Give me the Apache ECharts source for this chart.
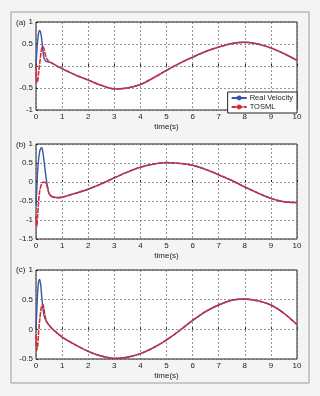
<!DOCTYPE html>
<html><head><meta charset="utf-8">
<script src="https://cdn.jsdelivr.net/npm/echarts@6/dist/echarts.min.js"></script>
<style>html,body{margin:0;padding:0;background:#f4f4f4;}#c{width:320px;height:396px;}</style>
</head><body><div id="c"></div>
<script>
// shared time grid (s)
var times = [0, 0.03, 0.06, 0.1, 0.14, 0.18, 0.22, 0.26, 0.3, 0.35, 0.4, 0.45, 0.5, 0.6, 0.8, 1, 1.5, 2, 2.5, 3, 3.5, 4, 4.5, 5, 5.5, 6, 6.5, 7, 7.5, 8, 8.5, 9, 9.5, 10];
// panel (a)
var realA  = [0, 0.3, 0.55, 0.75, 0.81, 0.76, 0.6, 0.38, 0.2, 0.12, 0.1, 0.095, 0.09, 0.07, 0.0, -0.06, -0.2, -0.32, -0.44, -0.52, -0.5, -0.42, -0.27, -0.1, 0.06, 0.2, 0.33, 0.43, 0.51, 0.54, 0.5, 0.41, 0.28, 0.13];
var tosmlA = [0, -0.38, -0.35, -0.15, 0.05, 0.25, 0.4, 0.45, 0.4, 0.28, 0.18, 0.13, 0.1, 0.07, 0.0, -0.06, -0.2, -0.32, -0.44, -0.52, -0.5, -0.42, -0.27, -0.1, 0.06, 0.2, 0.33, 0.43, 0.51, 0.54, 0.5, 0.41, 0.28, 0.13];
// panel (b)
var realB  = [-0.6, -0.2, 0.25, 0.6, 0.8, 0.88, 0.9, 0.8, 0.6, 0.3, 0.05, -0.15, -0.3, -0.38, -0.41, -0.4, -0.3, -0.19, -0.05, 0.11, 0.26, 0.39, 0.47, 0.51, 0.49, 0.44, 0.33, 0.19, 0.04, -0.13, -0.29, -0.43, -0.52, -0.54];
var tosmlB = [-0.9, -1.17, -0.9, -0.5, -0.25, -0.12, -0.05, -0.01, 0.0, -0.01, -0.07, -0.18, -0.3, -0.38, -0.41, -0.4, -0.3, -0.19, -0.05, 0.11, 0.26, 0.39, 0.47, 0.51, 0.49, 0.44, 0.33, 0.19, 0.04, -0.13, -0.29, -0.43, -0.52, -0.54];
// panel (c)
var realC  = [0, 0.3, 0.6, 0.8, 0.84, 0.75, 0.55, 0.38, 0.25, 0.18, 0.13, 0.1, 0.07, 0.02, -0.06, -0.13, -0.26, -0.37, -0.45, -0.49, -0.47, -0.41, -0.31, -0.18, -0.02, 0.15, 0.3, 0.41, 0.49, 0.51, 0.48, 0.41, 0.27, 0.08];
var tosmlC = [-0.1, -0.35, -0.3, -0.05, 0.15, 0.3, 0.4, 0.42, 0.35, 0.22, 0.14, 0.1, 0.07, 0.02, -0.06, -0.13, -0.26, -0.37, -0.45, -0.49, -0.47, -0.41, -0.31, -0.18, -0.02, 0.15, 0.3, 0.41, 0.49, 0.51, 0.48, 0.41, 0.27, 0.08];
var xTicks = {min: 0, max: 10, interval: 1};
var yRanges = [{min: -1, max: 1}, {min: -1.5, max: 1}, {min: -0.5, max: 1}];
var panelLabels = ['(a)', '(b)', '(c)'];
var seriesNames = ['Real Velocity', 'TOSML'];

var FONT = 'Liberation Sans, Arial, sans-serif';
var gridBoxes = [{top: 22, height: 88}, {top: 144, height: 95}, {top: 270, height: 89}];
var grids = [], xAxes = [], yAxes = [], series = [];
var realAll = [realA, realB, realC], tosmlAll = [tosmlA, tosmlB, tosmlC];
function pairs(v){ return times.map(function(t,i){ return [t, v[i]]; }); }
for (var i = 0; i < 3; i++) {
  grids.push({left: 36, right: 23, top: gridBoxes[i].top, height: gridBoxes[i].height, show: true, backgroundColor: '#fff', borderColor: '#222', borderWidth: 1});
  var split = {show: true, lineStyle: {color: '#666', type: [2, 2], width: 0.7}};
  xAxes.push({type: 'value', gridIndex: i, min: xTicks.min, max: xTicks.max, interval: xTicks.interval,
    name: 'time(s)', nameLocation: 'middle', nameGap: 13, nameTextStyle: {fontSize: 8, color: '#222', fontFamily: FONT},
    axisLine: {show: false}, axisTick: {show: true, inside: true, length: 2, lineStyle: {color: '#222'}},
    axisLabel: {fontSize: 8, color: '#222', margin: 3, fontFamily: FONT}, splitLine: split});
  yAxes.push({type: 'value', gridIndex: i, min: yRanges[i].min, max: yRanges[i].max, interval: 0.5,
    axisLine: {show: false}, axisTick: {show: true, inside: true, length: 2, lineStyle: {color: '#222'}},
    axisLabel: {fontSize: 8, color: '#222', margin: 3, fontFamily: FONT}, splitLine: split});
  series.push({name: seriesNames[0], type: 'line', xAxisIndex: i, yAxisIndex: i, data: pairs(realAll[i]),
    smooth: 0.3, showSymbol: false, symbol: 'circle', symbolSize: 2, color: '#3657a8', lineStyle: {width: 1.4, color: '#3657a8'}});
  series.push({name: seriesNames[1], type: 'line', xAxisIndex: i, yAxisIndex: i, data: pairs(tosmlAll[i]),
    smooth: 0.3, showSymbol: false, symbol: 'circle', symbolSize: 2, color: '#d42c3a', lineStyle: {width: 1.6, color: '#d42c3a', type: [5, 1]}});
}
var graphics = [{type: 'rect', shape: {x: 11, y: 12, width: 298, height: 371}, style: {fill: 'none', stroke: '#9a9a9a', lineWidth: 1}, z: -1}];
var labelY = [23, 145, 270];
for (var j = 0; j < 3; j++) {
  graphics.push({type: 'text', left: 16, top: labelY[j] - 4, style: {text: panelLabels[j], fontSize: 8, fill: '#222', fontFamily: FONT}});
}
var chart = echarts.init(document.getElementById('c'));
chart.setOption({
  backgroundColor: '#f4f4f4',
  animation: false,
  grid: grids, xAxis: xAxes, yAxis: yAxes, series: series,
  legend: {data: seriesNames, orient: 'vertical', right: 23, top: 92, itemWidth: 15, itemHeight: 6, itemGap: 1,
    padding: [2, 4, 2, 3], backgroundColor: '#fff', borderColor: '#222', borderWidth: 1, borderRadius: 0,
    textStyle: {fontSize: 7.5, color: '#222', fontFamily: FONT, padding: [0, 0, 0, -2]}},
  graphic: graphics
});
</script></body></html>
